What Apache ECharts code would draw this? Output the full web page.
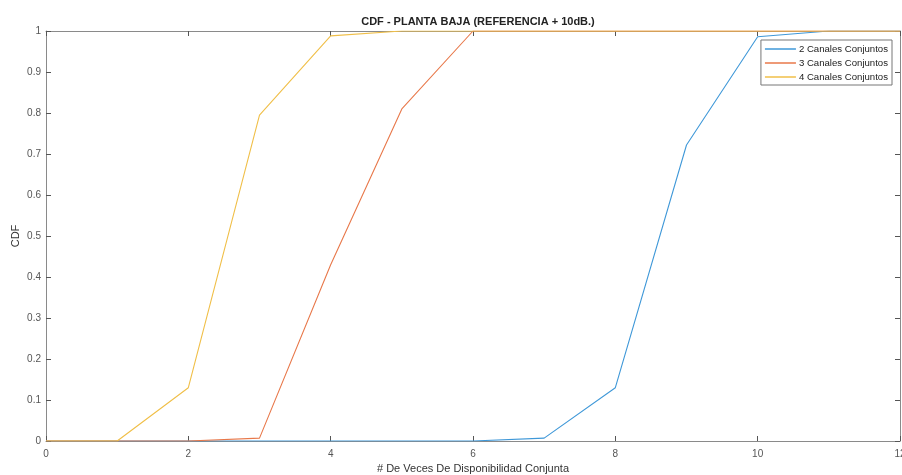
<!DOCTYPE html>
<html>
<head>
<meta charset="utf-8">
<script src="https://cdn.jsdelivr.net/npm/echarts@6/dist/echarts.min.js"></script>
<style>html,body{margin:0;padding:0;background:#fff}#c{width:902px;height:475px}</style>
</head>
<body>
<div id="c"></div>
<script>
const xValues = [0,1,2,3,4,5,6,7,8,9,10,11,12];
const canales2 = [0,0,0,0,0,0,0,0.007,0.13,0.722,0.986,1,1];
const canales3 = [0,0,0,0.007,0.43,0.81,1,1,1,1,1,1,1];
const canales4 = [0,0,0.13,0.795,0.988,1,1,1,1,1,1,1,1];
const seriesNames = ['2 Canales Conjuntos','3 Canales Conjuntos','4 Canales Conjuntos'];
const colors = ['#3f98d8','#e8784a','#f0bf48'];

const chart = echarts.init(document.getElementById('c'), null, {renderer:'canvas'});
const axisGray = '#8a8a8a';
const labelGray = '#555';
function pairs(ys){return xValues.map((x,i)=>[x,ys[i]]);}
const mk = (name, ys, color) => ({
  name, type:'line', data:pairs(ys), symbol:'none', xAxisIndex:0, yAxisIndex:0,
  lineStyle:{color, width:1.1}, itemStyle:{color}, animation:false
});
const tick = {show:true, inside:true, length:5, lineStyle:{color:'#555'}};
const line = {show:true, onZero:false, lineStyle:{color:axisGray}};
chart.setOption({
  animation:false,
  textStyle:{fontFamily:'Liberation Sans, Arial, sans-serif'},
  title:{text:'CDF - PLANTA BAJA (REFERENCIA + 10dB.)', left:473, top:11, textAlign:'center',
    textStyle:{fontSize:11, fontWeight:'bold', color:'#222'}},
  grid:{left:46, right:2, top:31, bottom:34, containLabel:false, outerBoundsMode:'none'},
  legend:{right:10, top:40, orient:'vertical', itemWidth:31, itemHeight:1.5, itemGap:4,
    icon:'rect', borderColor:'#777', borderWidth:1, padding:[4,4,3,4], backgroundColor:'#fff',
    textStyle:{fontSize:9.6, color:'#222', padding:[0,0,0,-2]}, data:seriesNames},
  xAxis:[{type:'value', min:0, max:12, interval:2, position:'bottom',
    name:'# De Veces De Disponibilidad Conjunta', nameLocation:'middle', nameGap:22,
    nameTextStyle:{fontSize:11, color:'#333'},
    axisLine:line, axisTick:tick,
    axisLabel:{fontSize:10, color:labelGray, margin:8}, splitLine:{show:false}},
   {type:'value', min:0, max:12, interval:2, position:'top',
    axisLine:line, axisTick:tick,
    axisLabel:{show:false}, splitLine:{show:false}}],
  yAxis:[{type:'value', min:0, max:1, interval:0.1, position:'left',
    name:'CDF', nameLocation:'middle', nameGap:25, nameMoveOverlap:false, nameTextStyle:{fontSize:11, color:'#333'},
    axisLine:line, axisTick:tick,
    axisLabel:{fontSize:10, color:labelGray, margin:5, formatter:v=>String(Math.round(v*10)/10)}, splitLine:{show:false}},
   {type:'value', min:0, max:1, interval:0.1, position:'right',
    axisLine:line, axisTick:tick,
    axisLabel:{show:false}, splitLine:{show:false}}],
  series:[mk(seriesNames[0],canales2,colors[0]), mk(seriesNames[1],canales3,colors[1]), mk(seriesNames[2],canales4,colors[2])]
});
</script>
</body>
</html>
